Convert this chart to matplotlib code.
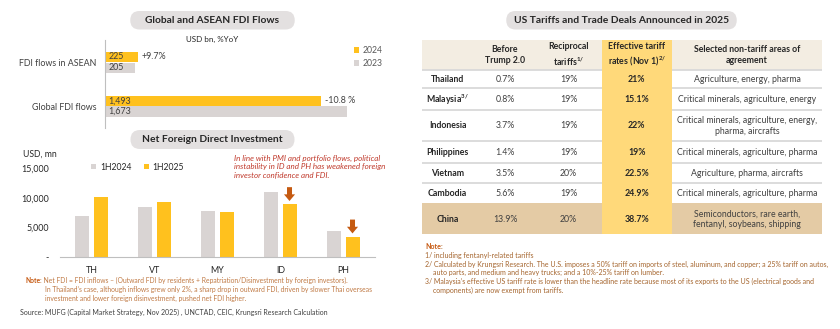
import matplotlib.pyplot as plt
from matplotlib.patches import FancyBboxPatch, Rectangle
import numpy as np

plt.rcParams['font.family'] = ['Lato', 'DejaVu Sans']
plt.rcParams['mathtext.fontset'] = 'custom'
plt.rcParams['mathtext.rm'] = 'Lato'
plt.rcParams['mathtext.bf'] = 'Lato:bold'

# Global and ASEAN FDI flows (USD bn)
fdi_cats = ['FDI flows in ASEAN', 'Global FDI flows']
fdi_2024 = [225, 1493]
fdi_2023 = [205, 1673]
fdi_yoy = ['+9.7%', '-10.8 %']

# Net FDI, USD mn
nfdi_cats = ['TH', 'VT', 'MY', 'ID', 'PH']
nfdi_1h2024 = [6900, 8500, 7800, 10900, 4400]
nfdi_1h2025 = [10200, 9300, 7600, 8900, 3400]
nfdi_ticks = [0, 5000, 10000, 15000]
nfdi_ticklabels = ['-', '5,000', '10,000', '15,000']
nfdi_drops = ['ID', 'PH']

# US tariffs table
tbl_header = ['', 'Before\nTrump 2.0', 'Reciprocal\ntariffs$^{\\mathbf{1/}}$',
              'Effective tariff\nrates (Nov 1)$^{\\mathbf{2/}}$',
              'Selected non-tariff areas of\nagreement']
countries = ['Thailand', 'Malaysia$^{\\mathbf{3/}}$', 'Indonesia', 'Philippines',
             'Vietnam', 'Cambodia', 'China']
before_trump = ['0.7%', '0.8%', '3.7%', '1.4%', '3.5%', '5.6%', '13.9%']
reciprocal = ['19%', '19%', '19%', '19%', '20%', '19%', '20%']
effective = ['21%', '15.1%', '22%', '19%', '22.5%', '24.9%', '38.7%']
non_tariff = ['Agriculture, energy, pharma',
              'Critical minerals, agriculture, energy',
              'Critical minerals, agriculture, energy,\npharma, aircrafts',
              'Critical minerals, agriculture, pharma',
              'Agriculture, pharma, aircrafts',
              'Critical minerals, agriculture, pharma',
              'Semiconductors, rare earth,\nfentanyl, soybeans, shipping']

GOLD = '#FFC11E'
GREY = '#D9D4D3'
PILL = '#E3E0E0'
TXT = '#262626'
W, H = 840, 329

fig = plt.figure(figsize=(8.4, 3.29), dpi=100)
fig.patch.set_facecolor('white')

# background layer in pixel units
ov = fig.add_axes([0, 0, 1, 1])
ov.set_xlim(0, W)
ov.set_ylim(H, 0)
ov.axis('off')


def pill(x0, x1, y0, y1, title):
    r = (y1 - y0) / 2
    ov.add_patch(FancyBboxPatch((x0 + r, y0), x1 - x0 - 2 * r, y1 - y0,
                                boxstyle=f'round,pad=0,rounding_size={r}',
                                fc=PILL, ec='none', mutation_aspect=1))
    ov.text((x0 + x1) / 2, (y0 + y1) / 2 + 0.5, title, ha='center', va='center',
            fontsize=7.4, fontweight='bold', color=TXT)


def note_line(x, y, head, rest, size, head_color, color):
    # bold "Note" followed by the rest of the line
    t = ov.text(x, y, head, ha='left', va='center', fontsize=size,
                fontweight='bold', color=head_color)
    ov.annotate(rest, xy=(1, 0), xycoords=t, ha='left', va='bottom',
                fontsize=size, color=color)


pill(121, 304, 11, 29.5, 'Global and ASEAN FDI Flows')
pill(121, 304, 130, 149, 'Net Foreign Direct Investment')
pill(497, 746, 11, 29.5, 'US Tariffs and Trade Deals Announced in 2025')

# ---- top left: horizontal bars ----
ax1 = fig.add_axes([105.3 / W, 1 - 127.7 / H, (385 - 105.3) / W, (127.7 - 40) / H])
ax1.patch.set_alpha(0)
y = np.arange(len(fdi_cats))
b24 = ax1.barh(y - 0.12, fdi_2024, height=0.235, color=GOLD, label='2024')
b23 = ax1.barh(y + 0.125, fdi_2023, height=0.235, color=GREY, label='2023')
ax1.set_xlim(0, (385 - 105.3) / 0.1446)
ax1.set_ylim(1.495, -0.507)
ax1.set_yticks(y, fdi_cats, fontsize=6.4, color='#404040')
ax1.tick_params(axis='y', length=0, pad=6.5)
ax1.set_xticks([])
for s in ['top', 'right', 'bottom']:
    ax1.spines[s].set_visible(False)
ax1.spines['left'].set_color('#BFBFBF')
for i in range(len(fdi_cats)):
    ax1.annotate(f'{fdi_2024[i]:,}', (0, y[i] - 0.12), xytext=(2, 0),
                 textcoords='offset points', va='center', fontsize=6.4, color='#404040')
    ax1.annotate(f'{fdi_2023[i]:,}', (0, y[i] + 0.125), xytext=(2, 0),
                 textcoords='offset points', va='center', fontsize=6.4, color='#404040')
    ax1.annotate(fdi_yoy[i], (fdi_2024[i], y[i] - 0.12), xytext=(2.5, 0),
                 textcoords='offset points', va='center', fontsize=6.4, color='#404040')
fig.text(212.5 / W, 1 - 39 / H, 'USD bn, %YoY', ha='center', va='center',
         fontsize=5.8, color=TXT)
fig.legend(handles=[b24, b23], loc='upper left', bbox_to_anchor=(350 / W, 1 - 41.5 / H),
           frameon=False, fontsize=6.2, handlelength=0.6, handleheight=0.6,
           handletextpad=0.4, labelspacing=0.5, borderpad=0, labelcolor='#595959')

# ---- bottom left: net FDI columns ----
ax2 = fig.add_axes([60 / W, 1 - 256.7 / H, 315 / W, (256.7 - 168.3) / H])
ax2.patch.set_alpha(0)
x = np.arange(len(nfdi_cats))
c24 = ax2.bar(x - 0.143, nfdi_1h2024, width=0.222, color=GREY, label='1H2024')
c25 = ax2.bar(x + 0.143, nfdi_1h2025, width=0.222, color=GOLD, label='1H2025')
ax2.set_xlim(-0.5, len(nfdi_cats) - 0.5)
ax2.set_ylim(0, 15000)
ax2.set_yticks(nfdi_ticks, nfdi_ticklabels, fontsize=6.4, color=TXT)
ax2.set_xticks(x, nfdi_cats, fontsize=6.4, color=TXT)
ax2.tick_params(length=0)
ax2.tick_params(axis='y', pad=8)
ax2.tick_params(axis='x', pad=7)
for s in ['top', 'right', 'left']:
    ax2.spines[s].set_visible(False)
ax2.spines['bottom'].set_color('#BFBFBF')
for c in nfdi_drops:
    i = nfdi_cats.index(c)
    top = nfdi_1h2025[i]
    ax2.annotate('', xy=(x[i] + 0.143, top + 550), xytext=(x[i] + 0.143, top + 2900),
                 arrowprops=dict(arrowstyle='simple,head_length=0.6,head_width=1.0,tail_width=0.45',
                                 fc='#C55A11', ec='none', mutation_scale=8,
                                 shrinkA=0, shrinkB=0))
fig.text(23 / W, 1 - 154.3 / H, 'USD, mn', ha='left', va='center', fontsize=6.2, color=TXT)
fig.legend(handles=[c24, c25], loc='center left', bbox_to_anchor=(87 / W, 1 - 167.3 / H),
           ncol=2, frameon=False, fontsize=6.2, handlelength=0.6, handleheight=0.6,
           handletextpad=0.4, columnspacing=1.5, borderpad=0, labelcolor=TXT)
fig.text(234 / W, 1 - 155 / H,
         'In line with PMI and portfolio flows, political\n'
         'instability in ID and PH has weakened foreign\n'
         'investor confidence and FDI.',
         ha='left', va='top', fontsize=5.8, style='italic', color='#C0392B', linespacing=1.2)

NOTE = '#C07A45'
note_line(25, 280.7, 'Note',
          ': Net FDI = FDI inflows \u2013 (Outward FDI by residents + Repatriation/Disinvestment by foreign investors).',
          4.9, '#C65911', NOTE)
ov.text(45, 289.7,
        'In Thailand\u2019s case, although inflows grew only 2%, a sharp drop in outward FDI, driven by slower Thai overseas',
        ha='left', va='center', fontsize=4.9, color=NOTE)
ov.text(45, 298.3,
        'investment and lower foreign disinvestment, pushed net FDI higher.',
        ha='left', va='center', fontsize=4.9, color=NOTE)
ov.text(20, 312.3,
        'Source: MUFG (Capital Market Strategy, Nov 2025) , UNCTAD, CEIC, Krungsri Research Calculation',
        ha='left', va='center', fontsize=5.0, color='#404040')

# ---- right: tariff table ----
tx0, tx1 = 421.7, 822.3
yc0, yc1 = 601.7, 671.7
col_x = [447.5, 505, 568.5, 636.7, 747]
row_edges = [40, 70, 88.3, 110, 141, 162.7, 182.5, 203.3, 234]

ov.add_patch(Rectangle((tx0, row_edges[0]), tx1 - tx0, row_edges[1] - row_edges[0],
                       fc='#F3EDE2', ec='none'))
ov.add_patch(Rectangle((tx0, row_edges[-2]), tx1 - tx0, row_edges[-1] - row_edges[-2],
                       fc='#E4CBA5', ec='none'))
for e in row_edges[1:-2]:
    ov.plot([tx0, tx1], [e, e], color='#D9D9D9', lw=1.3, solid_capstyle='butt')
ov.add_patch(Rectangle((yc0, row_edges[0]), yc1 - yc0, row_edges[-1] - row_edges[0],
                       fc='#FFD97A', ec='none', zorder=3))

hy = (row_edges[0] + row_edges[1]) / 2
for j, h in enumerate(tbl_header):
    ov.text(col_x[j], hy, h, ha='center', va='center', fontsize=6.3, fontweight='bold',
            color=TXT, linespacing=1.35, zorder=4)

for i in range(len(countries)):
    cy = (row_edges[i + 1] + row_edges[i + 2]) / 2 + 0.5
    ov.text(col_x[0], cy, countries[i], ha='center', va='center', fontsize=6.3,
            fontweight='bold', color=TXT, zorder=4)
    ov.text(col_x[1], cy, before_trump[i], ha='center', va='center', fontsize=6.3, color='#404040', zorder=4)
    ov.text(col_x[2], cy, reciprocal[i], ha='center', va='center', fontsize=6.3, color='#404040', zorder=4)
    ov.text(col_x[3], cy, effective[i], ha='center', va='center', fontsize=6.3,
            fontweight='bold', color=TXT, zorder=4)
    ov.text(col_x[4], cy, non_tariff[i], ha='center', va='center', fontsize=6.3,
            color='#404040', linespacing=1.2, zorder=4)

RNOTE = '#A5652E'
note_line(425, 246.7, 'Note', ':', 5.0, '#C65911', RNOTE)
notes_r = [
    (425, 255.3, '1/ including fentanyl-related tariffs'),
    (425, 264.0, '2/ Calculated by Krungsri Research. The U.S. imposes a 50% tariff on imports of steel, aluminum, and copper; a 25% tariff on autos,'),
    (432.7, 272.7, 'auto parts, and medium and heavy trucks; and a 10%-25% tariff on lumber.'),
    (425, 281.7, '3/ Malaysia\u2019s effective US tariff rate is lower than the headline rate because most of its exports to the US (electrical goods and'),
    (432.7, 290.3, 'components) are now exempt from tariffs.'),
]
for nx, ny, t in notes_r:
    ov.text(nx, ny, t, ha='left', va='center', fontsize=5.0, color=RNOTE)

fig.savefig('out.png', dpi=100, facecolor='white')
